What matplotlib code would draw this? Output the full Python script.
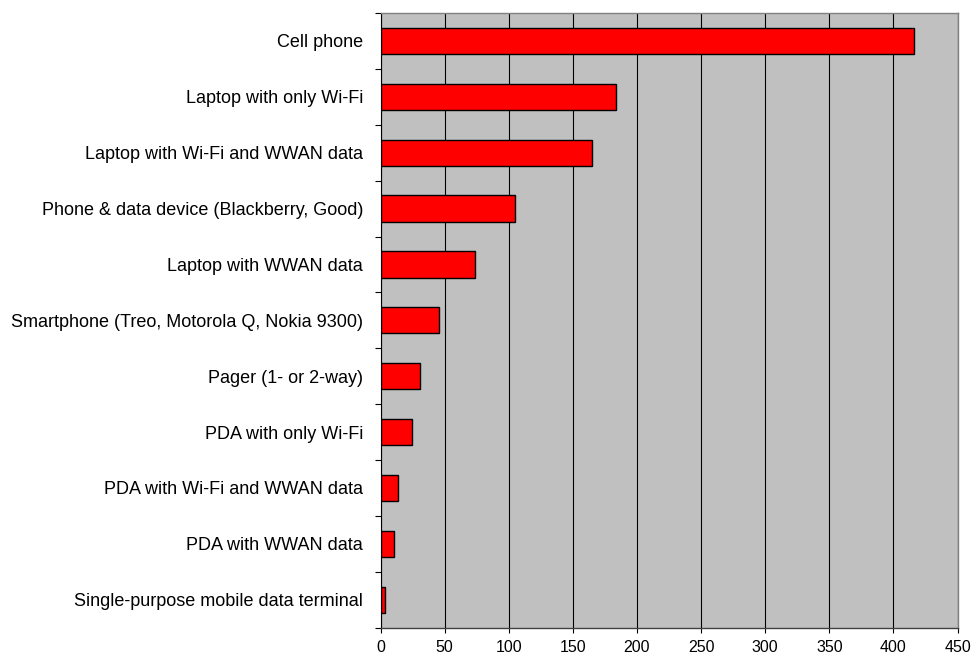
import numpy as np
import matplotlib
matplotlib.use('Agg')
import matplotlib.pyplot as plt

# device categories, top to bottom
devices = ["Cell phone",
           "Laptop with only Wi-Fi",
           "Laptop with Wi-Fi and WWAN data",
           "Phone & data device (Blackberry, Good)",
           "Laptop with WWAN data",
           "Smartphone (Treo, Motorola Q, Nokia 9300)",
           "Pager (1- or 2-way)",
           "PDA with only Wi-Fi",
           "PDA with Wi-Fi and WWAN data",
           "PDA with WWAN data",
           "Single-purpose mobile data terminal"]
counts = [416, 184, 165, 105, 73.5, 45.5, 30.5, 24.5, 14, 10.5, 3.5]
xticks = [0, 50, 100, 150, 200, 250, 300, 350, 400, 450]

plt.rcParams['font.family'] = ['Liberation Sans', 'DejaVu Sans']

fig = plt.figure(figsize=(9.72, 6.56), dpi=100)
ax = fig.add_axes([380.5/972, 1 - 627.7/656, (957.5-380.5)/972, (627.7-13)/656])

y = np.arange(len(devices))
ax.barh(y, counts, height=0.47, color='#FF0000', edgecolor='black', linewidth=1.0, zorder=3)

ax.set_facecolor('#C0C0C0')
ax.set_xlim(0, 450)
ax.set_ylim(len(devices) - 0.5, -0.5)
ax.set_xticks(xticks)
ax.set_xticklabels([str(t) for t in xticks], fontsize=11.5)

# category labels sit between the boundary ticks
ax.set_yticks(np.arange(len(devices) + 1) - 0.5)
ax.set_yticklabels([])
ax.set_yticks(y, minor=True)
ax.set_yticklabels(devices, minor=True, fontsize=13)
ax.tick_params(axis='y', which='minor', length=0, pad=12.5)
ax.tick_params(axis='y', which='major', length=4.3, width=0.8, direction='out')
ax.tick_params(axis='x', length=3.6, width=0.8, pad=5)

ax.xaxis.grid(True, color='black', linewidth=0.8, zorder=1)
ax.set_axisbelow(True)

for s in ['top', 'right']:
    ax.spines[s].set_color('#808080')
    ax.spines[s].set_linewidth(1.0)
ax.spines['left'].set_color('black')
ax.spines['bottom'].set_color('#404040')
ax.spines['left'].set_linewidth(0.8)
ax.spines['bottom'].set_linewidth(1.0)

fig.savefig('out.png', dpi=100, facecolor='white')
